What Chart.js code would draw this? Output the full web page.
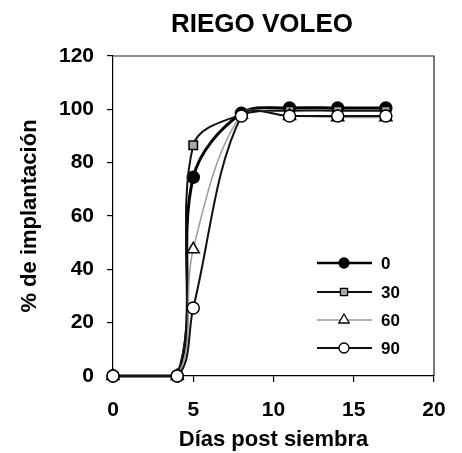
<!DOCTYPE html>
<html>
<head>
<meta charset="utf-8">
<script src="https://cdn.jsdelivr.net/npm/chart.js@4.4.1/dist/chart.umd.min.js"></script>
<style>
  html, body { margin: 0; padding: 0; background: #fff; }
  #wrap { width: 462px; height: 453px; }
</style>
</head>
<body>
<div id="wrap"><canvas id="c" width="462" height="453"></canvas></div>
<script>
// datos
const dias = [0, 4, 5, 8, 11, 14, 17];
const serie0 = [0, 0, 74.5, 98.5, 100.5, 100.5, 100.5];
const serie30 = [0, 0, 86.5, 98, 99.5, 99.5, 99.5];
const serie60 = [0, 0, 47.5, 98, 97.5, 97, 97];
const serie90 = [0, 0, 25.5, 97.5, 97.5, 97.5, 97.5];
const etiquetas = ['0', '30', '60', '90'];
const xTicks = [0, 5, 10, 15, 20];
const yTicks = [0, 20, 40, 60, 80, 100, 120];
const titulo = 'RIEGO VOLEO';

const FONT = "'Liberation Sans', Arial, sans-serif";

function pts(vals) {
    return dias.map((d, i) => ({ x: d, y: vals[i] }));
}

const estilos = [
    { data: serie0, color: '#000', width: 3, point: 'circle', bg: '#000', r: 6 },
    { data: serie30, color: '#111', width: 2, point: 'rect', bg: '#a8a8a8', r: 6 },
    { data: serie60, color: '#9a9a9a', width: 1.5, point: 'triangle', bg: '#fff', r: 7 },
    { data: serie90, color: '#111', width: 2, point: 'circle', bg: '#fff', r: 6 }
];

// titulo y marco del area de trazado
const marco = {
    id: 'marco',
    afterDraw(chart) {
        const a = chart.chartArea, ctx = chart.ctx;
        ctx.save();
        ctx.strokeStyle = '#222';
        ctx.lineWidth = 1.2;
        ctx.beginPath();
        ctx.moveTo(a.left, a.top);
        ctx.lineTo(a.right, a.top);
        ctx.lineTo(a.right, a.bottom);
        ctx.stroke();
        ctx.fillStyle = '#000';
        ctx.font = 'bold 26px ' + FONT;
        ctx.textAlign = 'center';
        ctx.textBaseline = 'alphabetic';
        ctx.fillText(titulo, 262, 32);
        ctx.restore();
    }
};

// leyenda dentro del grafico
const leyenda = {
    id: 'leyenda',
    afterDraw(chart) {
        const ctx = chart.ctx;
        const x0 = 317, x1 = 372, xm = 344;
        const filas = [263, 292, 320, 348];
        ctx.save();
        chart.data.datasets.forEach((ds, i) => {
            const y = filas[i];
            ctx.strokeStyle = ds.borderColor;
            ctx.lineWidth = Math.min(ds.borderWidth, 2.5);
            ctx.beginPath();
            ctx.moveTo(x0, y);
            ctx.lineTo(x1, y);
            ctx.stroke();
            ctx.fillStyle = ds.pointBackgroundColor;
            ctx.strokeStyle = '#000';
            ctx.lineWidth = 1.3;
            Chart.helpers.drawPoint(ctx, {
                pointStyle: ds.pointStyle,
                radius: ds.pointRadius - 1,
                borderWidth: 1.3,
                rotation: 0
            }, xm, y);
            ctx.fillStyle = '#000';
            ctx.font = 'bold 17px ' + FONT;
            ctx.textAlign = 'left';
            ctx.textBaseline = 'middle';
            ctx.fillText(etiquetas[i], 381, y + 1);
        });
        ctx.restore();
    }
};

new Chart(document.getElementById('c'), {
    type: 'line',
    data: {
        datasets: estilos.map((e, i) => ({
            label: etiquetas[i],
            data: pts(e.data),
            borderColor: e.color,
            borderWidth: e.width,
            tension: 0.35,
            pointStyle: e.point,
            pointRadius: e.r,
            pointBackgroundColor: e.bg,
            pointBorderColor: '#000',
            pointBorderWidth: 1.5,
            fill: false,
            clip: false,
            order: estilos.length - i
        }))
    },
    options: {
        responsive: false,
        animation: false,
        devicePixelRatio: 1,
        layout: { padding: { left: 0, right: 28, top: 56, bottom: 0 } },
        plugins: {
            legend: { display: false },
            tooltip: { enabled: false },
            title: { display: false }
        },
        scales: {
            x: {
                type: 'linear',
                min: 0,
                max: 20,
                afterBuildTicks(s) { s.ticks = xTicks.map(v => ({ value: v })); },
                afterFit(s) { s.height = 77; },
                grid: { drawOnChartArea: false, drawTicks: true, tickLength: 6, color: '#000', lineWidth: 1.2 },
                border: { display: true, color: '#000', width: 1.2 },
                ticks: { color: '#000', font: { family: FONT, size: 21, weight: 'bold' }, padding: 16, maxRotation: 0 },
                title: {
                    display: true,
                    text: 'Días post siembra',
                    color: '#000',
                    font: { family: FONT, size: 22, weight: 'bold' },
                    padding: { top: 0, bottom: 0 }
                }
            },
            y: {
                min: 0,
                max: 120,
                afterBuildTicks(s) { s.ticks = yTicks.map(v => ({ value: v })); },
                afterFit(s) { s.width = 113; },
                grid: { drawOnChartArea: false, drawTicks: true, tickLength: 6, color: '#000', lineWidth: 1.2 },
                border: { display: true, color: '#000', width: 1.2 },
                ticks: { color: '#000', font: { family: FONT, size: 21, weight: 'bold' }, padding: 13 },
                title: {
                    display: true,
                    text: '% de implantación',
                    color: '#000',
                    font: { family: FONT, size: 22, weight: 'bold' },
                    padding: { top: 17, bottom: 4 }
                }
            }
        }
    },
    plugins: [marco, leyenda]
});
</script>
</body>
</html>
